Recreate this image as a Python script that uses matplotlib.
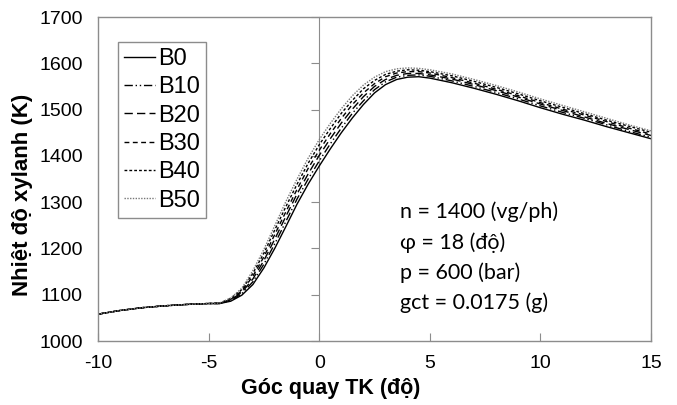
import matplotlib.pyplot as plt
import numpy as np

plt.rcParams['font.family'] = ['Liberation Sans', 'DejaVu Sans']
plt.rcParams['axes.unicode_minus'] = False

# crank angle (deg) and cylinder temperature (K) for each blend
goc = [-10, -9, -8, -7, -6, -5, -4.5, -4, -3.5, -3, -2.5, -2, -1.5, -1, -0.5,
       0, 0.5, 1, 1.5, 2, 2.5, 3, 3.5, 4, 4.5, 5, 6, 7, 8, 9, 10, 11, 12, 13, 14, 15]

flat = [1058, 1066, 1072, 1076, 1079, 1081]

b0 = flat + [1081, 1086, 1099, 1122, 1158, 1201, 1248, 1296, 1339,
             1378, 1415, 1450, 1482, 1511, 1536, 1554, 1565, 1570, 1571, 1568,
             1558, 1546, 1533, 1519, 1504, 1490, 1477, 1463, 1450, 1437]
b10 = flat + [1081, 1087, 1102, 1128, 1166, 1211, 1259, 1307, 1350,
              1389, 1426, 1460, 1492, 1519, 1543, 1560, 1570, 1574, 1575, 1572,
              1562, 1550, 1537, 1523, 1508, 1494, 1481, 1467, 1453, 1440]
b20 = flat + [1081, 1089, 1105, 1134, 1174, 1221, 1270, 1318, 1361,
              1401, 1437, 1471, 1501, 1528, 1550, 1565, 1574, 1578, 1578, 1575,
              1566, 1554, 1541, 1527, 1512, 1498, 1484, 1470, 1457, 1444]
b30 = flat + [1082, 1090, 1108, 1140, 1182, 1231, 1280, 1328, 1373,
              1412, 1448, 1481, 1511, 1536, 1556, 1571, 1579, 1582, 1582, 1579,
              1569, 1557, 1544, 1530, 1515, 1501, 1488, 1474, 1460, 1447]
b40 = flat + [1082, 1092, 1111, 1146, 1190, 1241, 1291, 1339, 1384,
              1424, 1459, 1492, 1520, 1545, 1563, 1576, 1583, 1586, 1585, 1582,
              1573, 1561, 1548, 1534, 1519, 1505, 1491, 1477, 1464, 1451]
b50 = flat + [1082, 1093, 1114, 1152, 1198, 1250, 1302, 1350, 1395,
              1435, 1470, 1502, 1530, 1553, 1570, 1582, 1588, 1590, 1589, 1586,
              1577, 1565, 1552, 1538, 1523, 1509, 1495, 1481, 1467, 1454]

names = ['B0', 'B10', 'B20', 'B30', 'B40', 'B50']
series = [b0, b10, b20, b30, b40, b50]
styles = ['-', (0, (6, 2, 1, 2, 1, 2)), (0, (6, 3)), (0, (3.5, 2.5)),
          (0, (2, 1.5)), (0, (1, 1))]
colors = ['black', 'black', 'black', 'black', 'black', '#777777']

notes = ['n = 1400 (vg/ph)', 'φ = 18 (độ)', 'p = 600 (bar)', 'gct = 0.0175 (g)']

fig = plt.figure(figsize=(6.77, 4.05), dpi=100)
ax = fig.add_axes([0.1448, 0.158, 0.8168, 0.80])

for name, vals, ls, c in zip(names, series, styles, colors):
    ax.plot(goc, vals, linestyle=ls, color=c, linewidth=1.0, label=name)

ax.set_xlim(-10, 15)
ax.set_ylim(1000, 1700)
ax.set_xticks(np.arange(-10, 16, 5))
ax.set_yticks(np.arange(1000, 1701, 100))

gray = '#8c8c8c'
for s in ax.spines.values():
    s.set_color(gray)
    s.set_linewidth(1.0)
ax.tick_params(axis='y', length=0, pad=11, labelsize=14)
ax.tick_params(axis='x', direction='in', length=6, color=gray, pad=10,
               labelsize=14)

# vertical axis drawn at x = 0 (Excel style)
sec = ax.secondary_yaxis(0.4)
sec.spines['left'].set_color(gray)
sec.tick_params(axis='y', direction='out', length=6, color=gray,
                labelleft=False)
sec.set_yticks(np.arange(1000, 1701, 100))

ax.set_xlabel('Góc quay TK (độ)', fontsize=15.5, fontweight='bold')
ax.xaxis.set_label_coords(0.42, -0.115)
ax.set_ylabel('Nhiệt độ xylanh (K)', fontsize=16, fontweight='bold')
ax.yaxis.set_label_coords(-0.118, 0.45)

leg = ax.legend(loc='upper left', bbox_to_anchor=(0.036, 0.923),
                fontsize=17, handlelength=1.3, handletextpad=0.15,
                labelspacing=0.27, borderpad=0.25, borderaxespad=0,
                fancybox=False, framealpha=1)
leg.get_frame().set_edgecolor(gray)
leg.get_frame().set_linewidth(1.0)

note_y = [1279, 1212, 1147, 1082]
for txt, yy in zip(notes, note_y):
    ax.text(3.65, yy, txt, fontsize=15.5, va='center', ha='left',
            family=['Lato', 'DejaVu Sans'])

fig.savefig('out.png', dpi=100)
